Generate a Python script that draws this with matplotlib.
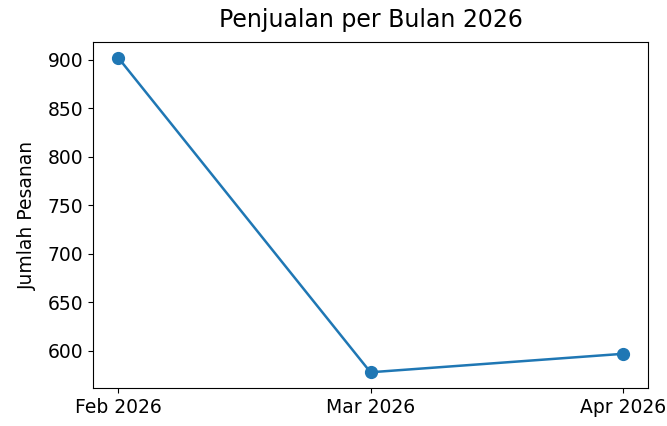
import matplotlib
matplotlib.use("Agg")
import matplotlib.pyplot as plt

months = ["Feb 2026", "Mar 2026", "Apr 2026"]
orders = [902, 578, 597]
yticks = [600, 650, 700, 750, 800, 850, 900]

fig = plt.figure(figsize=(6.67, 4.26), dpi=100)
ax = fig.add_axes([93/667, 1-388/426, (648-93)/667, (388-42)/426])
ax.plot(months, orders, marker="o", color="#1f77b4", linewidth=1.8, markersize=8.5)
ax.set_yticks(yticks)
ax.set_title("Penjualan per Bulan 2026", fontsize=17, pad=11)
ax.set_ylabel("Jumlah Pesanan", fontsize=13.5, labelpad=8)
ax.tick_params(labelsize=13.5)
fig.savefig("out.png", dpi=100)
